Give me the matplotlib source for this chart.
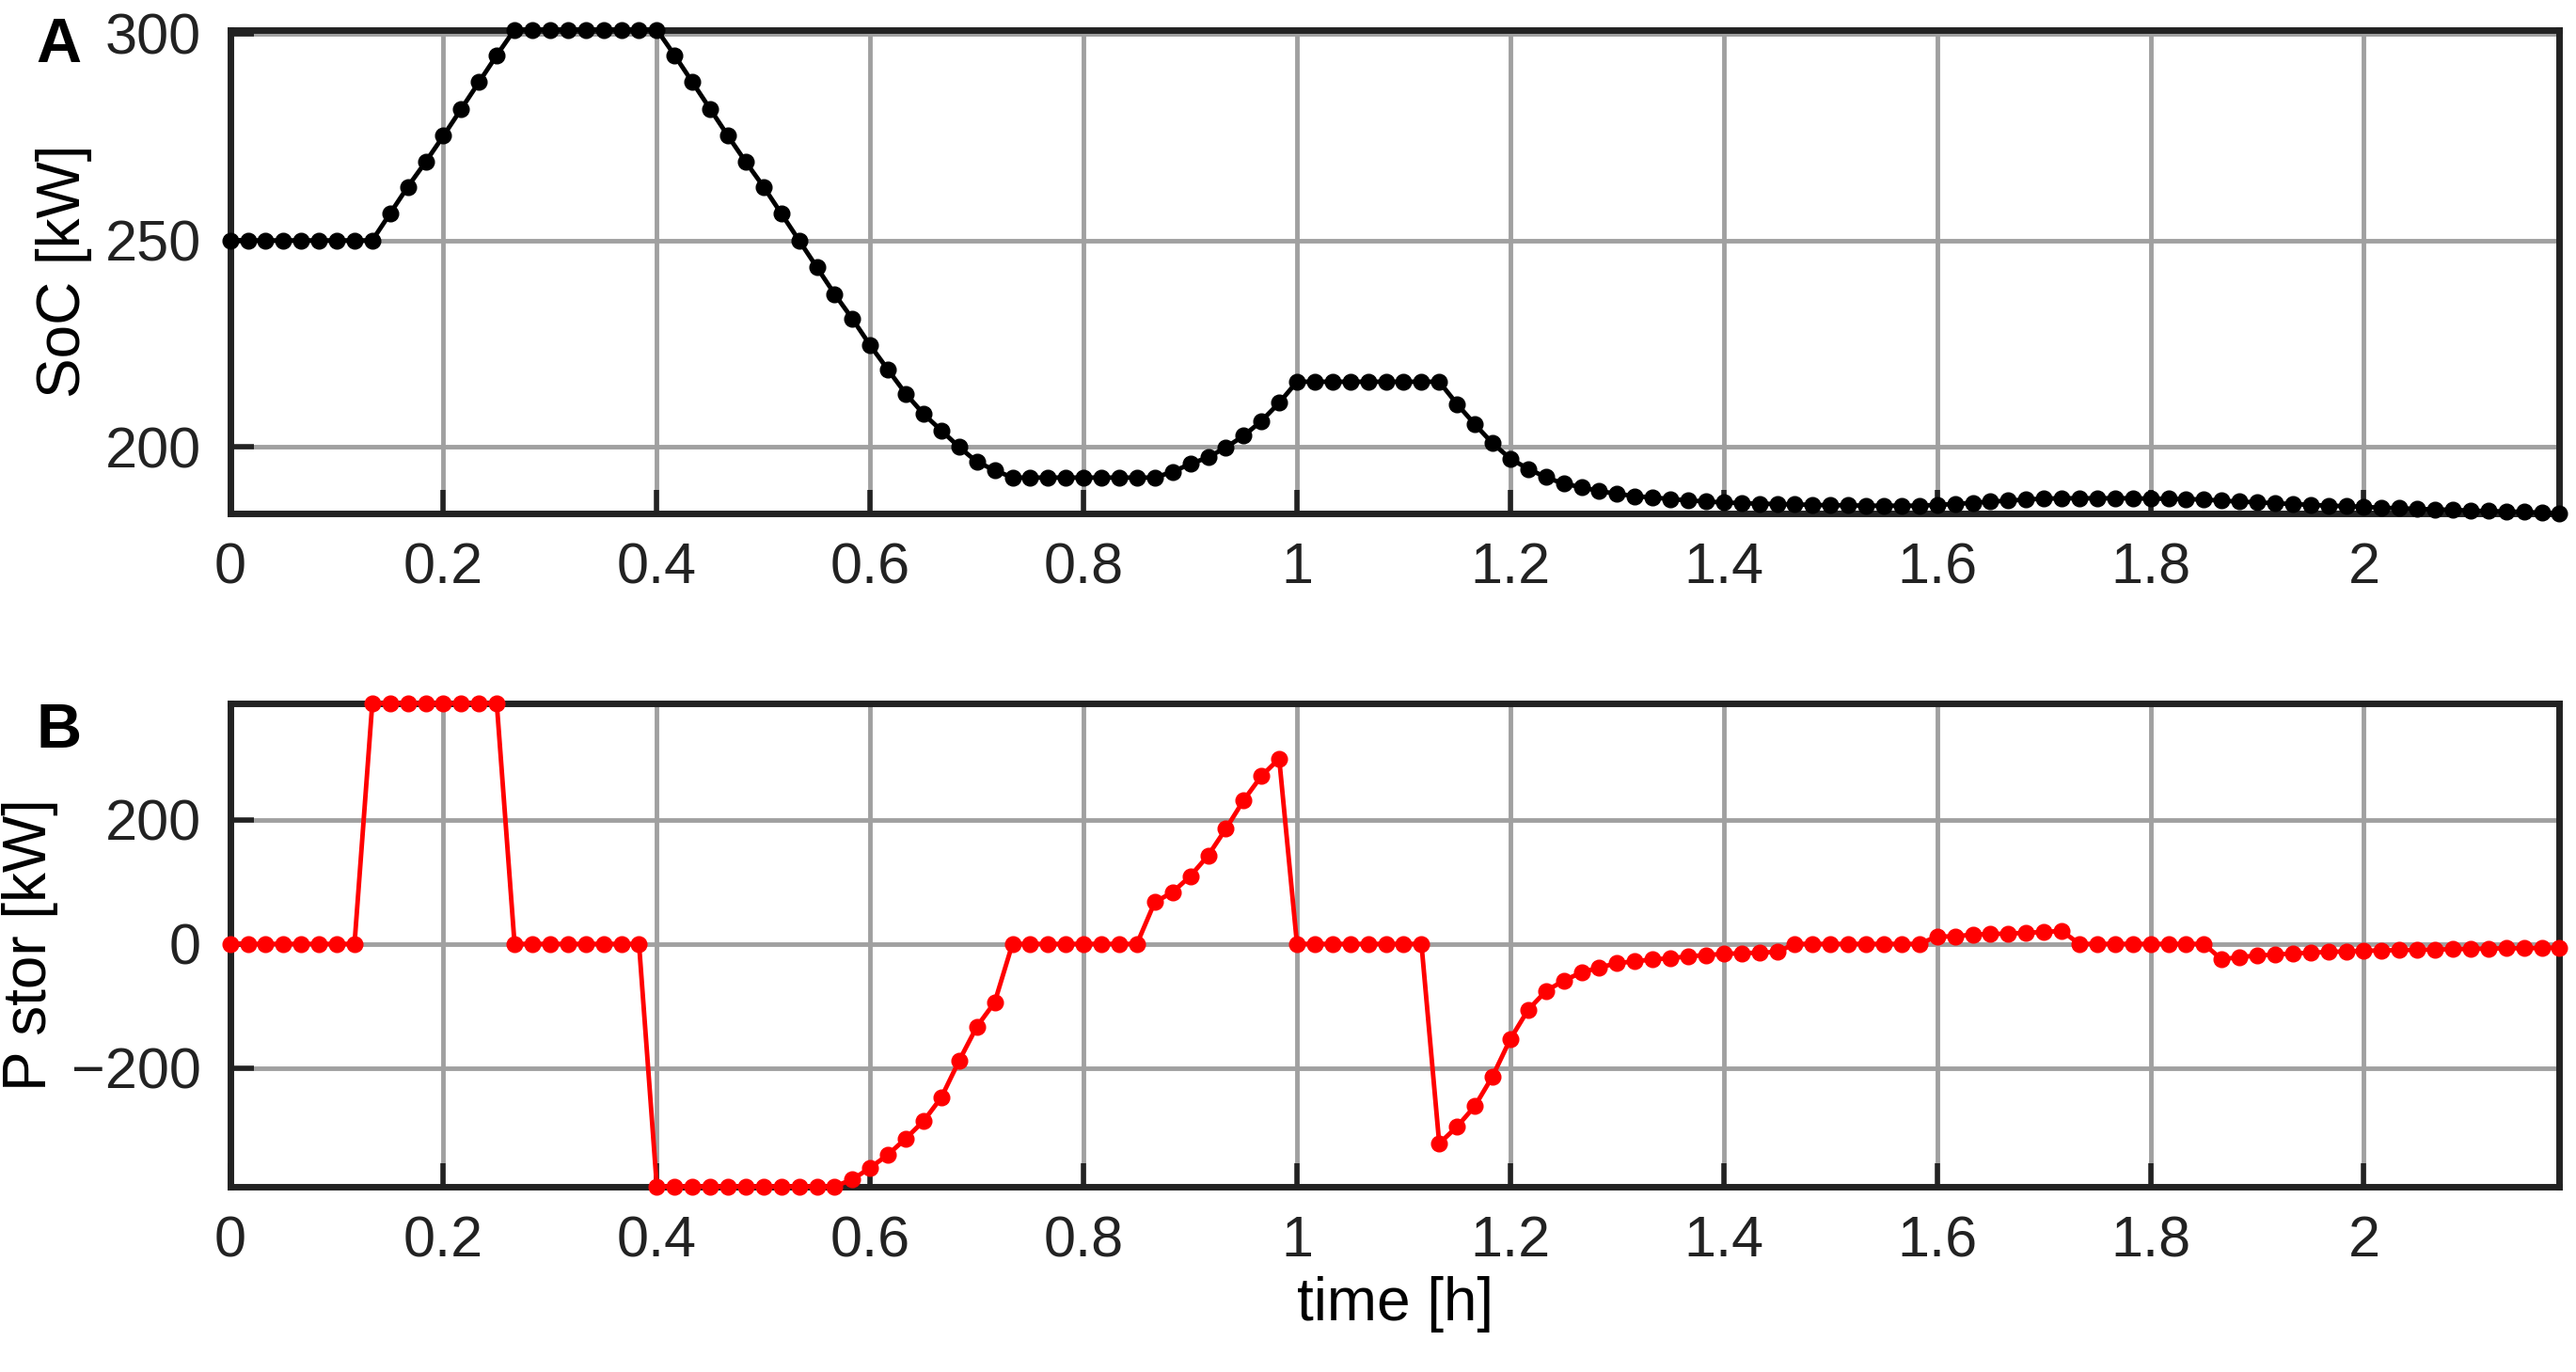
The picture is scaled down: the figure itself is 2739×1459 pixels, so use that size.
import numpy as np
import matplotlib
matplotlib.use("Agg")
import matplotlib.pyplot as plt

plt.rcParams['font.family'] = ['Liberation Sans', 'DejaVu Sans']

# sampling: one point per minute
dt = 1 / 60

soc = [250] * 9 + \
    [256.5, 263, 269, 275.3, 281.8, 288.3, 294.8] + \
    [301] * 9 + \
    [294.8, 288.3, 281.8, 275.3, 269, 263, 256.5] + \
    [250, 243.5, 237, 231, 224.6, 218.7, 212.9, 208, 204, 200, 196.4, 194.4] + \
    [192.6] * 9 + \
    [194, 195.9, 197.5, 199.9, 202.7, 206.3, 210.7] + \
    [215.8] * 9 + \
    [210.4, 205.5, 200.9, 197.2, 194.7, 192.7, 191.1, 190.3, 189.3, 188.7,
     188.1, 187.8, 187.4, 187.1, 186.8, 186.6] + \
    [186.4, 186.3, 186.2, 186.1, 186.0, 185.9, 185.9, 185.8, 185.8, 185.8, 185.8] + \
    [186.0, 186.2, 186.5, 186.8, 187.0, 187.3, 187.5, 187.6] + \
    [187.6, 187.6, 187.6, 187.6, 187.5, 187.5, 187.4, 187.3] + \
    [187.0, 186.8, 186.6, 186.4, 186.2, 186.0, 185.8, 185.7, 185.5, 185.3,
     185.2, 185.0, 184.9, 184.8, 184.6, 184.5, 184.4, 184.3, 184.1, 184.0]

pstor = [0] * 8 + [387] * 8 + [0] * 8 + [-390] * 11 + \
    [-379, -360, -339, -313, -285, -247, -188, -133, -94] + \
    [0] * 8 + \
    [67, 83, 109, 142, 185, 231, 270, 298] + \
    [0] * 8 + \
    [-321, -294, -261, -213, -153, -106, -76, -59, -46, -38,
     -31, -28, -25, -23, -20, -18, -16, -15, -14, -13] + \
    [0] * 8 + \
    [12, 12, 15, 16, 16.5, 18, 19, 21] + \
    [0] * 8 + \
    [-25, -21, -19, -17, -15.5, -14, -13, -12, -11, -10.5,
     -10, -9.5, -9, -8.5, -8, -7.5, -7, -7, -6.5, -6]

t = np.arange(len(soc)) * dt
xticks = [0, 0.2, 0.4, 0.6, 0.8, 1, 1.2, 1.4, 1.6, 1.8, 2]
xtick_labels = ["0", "0.2", "0.4", "0.6", "0.8", "1", "1.2", "1.4", "1.6", "1.8", "2"]

fig = plt.figure(figsize=(27.39, 14.59), dpi=100)
ax1 = fig.add_axes([0.0893, 0.626, 0.9043, 0.3524])
ax2 = fig.add_axes([0.0893, 0.1353, 0.9043, 0.3521])


def style(ax):
    ax.set_xlim(0, t[-1])
    ax.set_xticks(xticks)
    ax.set_xticklabels(xtick_labels)
    ax.grid(True, color='#a0a0a0', linewidth=3.5)
    ax.set_axisbelow(True)
    ax.tick_params(direction='in', labelsize=44, length=18, width=4, pad=22,
                   colors='#222222')
    for s in ax.spines.values():
        s.set_linewidth(5)
        s.set_color('#222222')


ax1.plot(t, soc, '-o', color='black', linewidth=3.5, markersize=12, clip_on=False, zorder=3)
style(ax1)
ax1.set_ylim(184, 301)
ax1.set_yticks([200, 250, 300])
ax1.set_ylabel("SoC [kW]", fontsize=46, labelpad=10)

ax2.plot(t, pstor, '-o', color='red', linewidth=3.5, markersize=12, clip_on=False, zorder=3)
style(ax2)
ax2.set_ylim(-390, 387)
ax2.set_yticks([-200, 0, 200])
ax2.set_ylabel("P stor [kW]", fontsize=46, labelpad=10)
ax2.set_xlabel("time [h]", fontsize=46, labelpad=6)

fig.text(0.014, 0.955, "A", fontsize=48, fontweight='bold')
fig.text(0.014, 0.455, "B", fontsize=48, fontweight='bold')

fig.savefig("out.png", dpi=100)
